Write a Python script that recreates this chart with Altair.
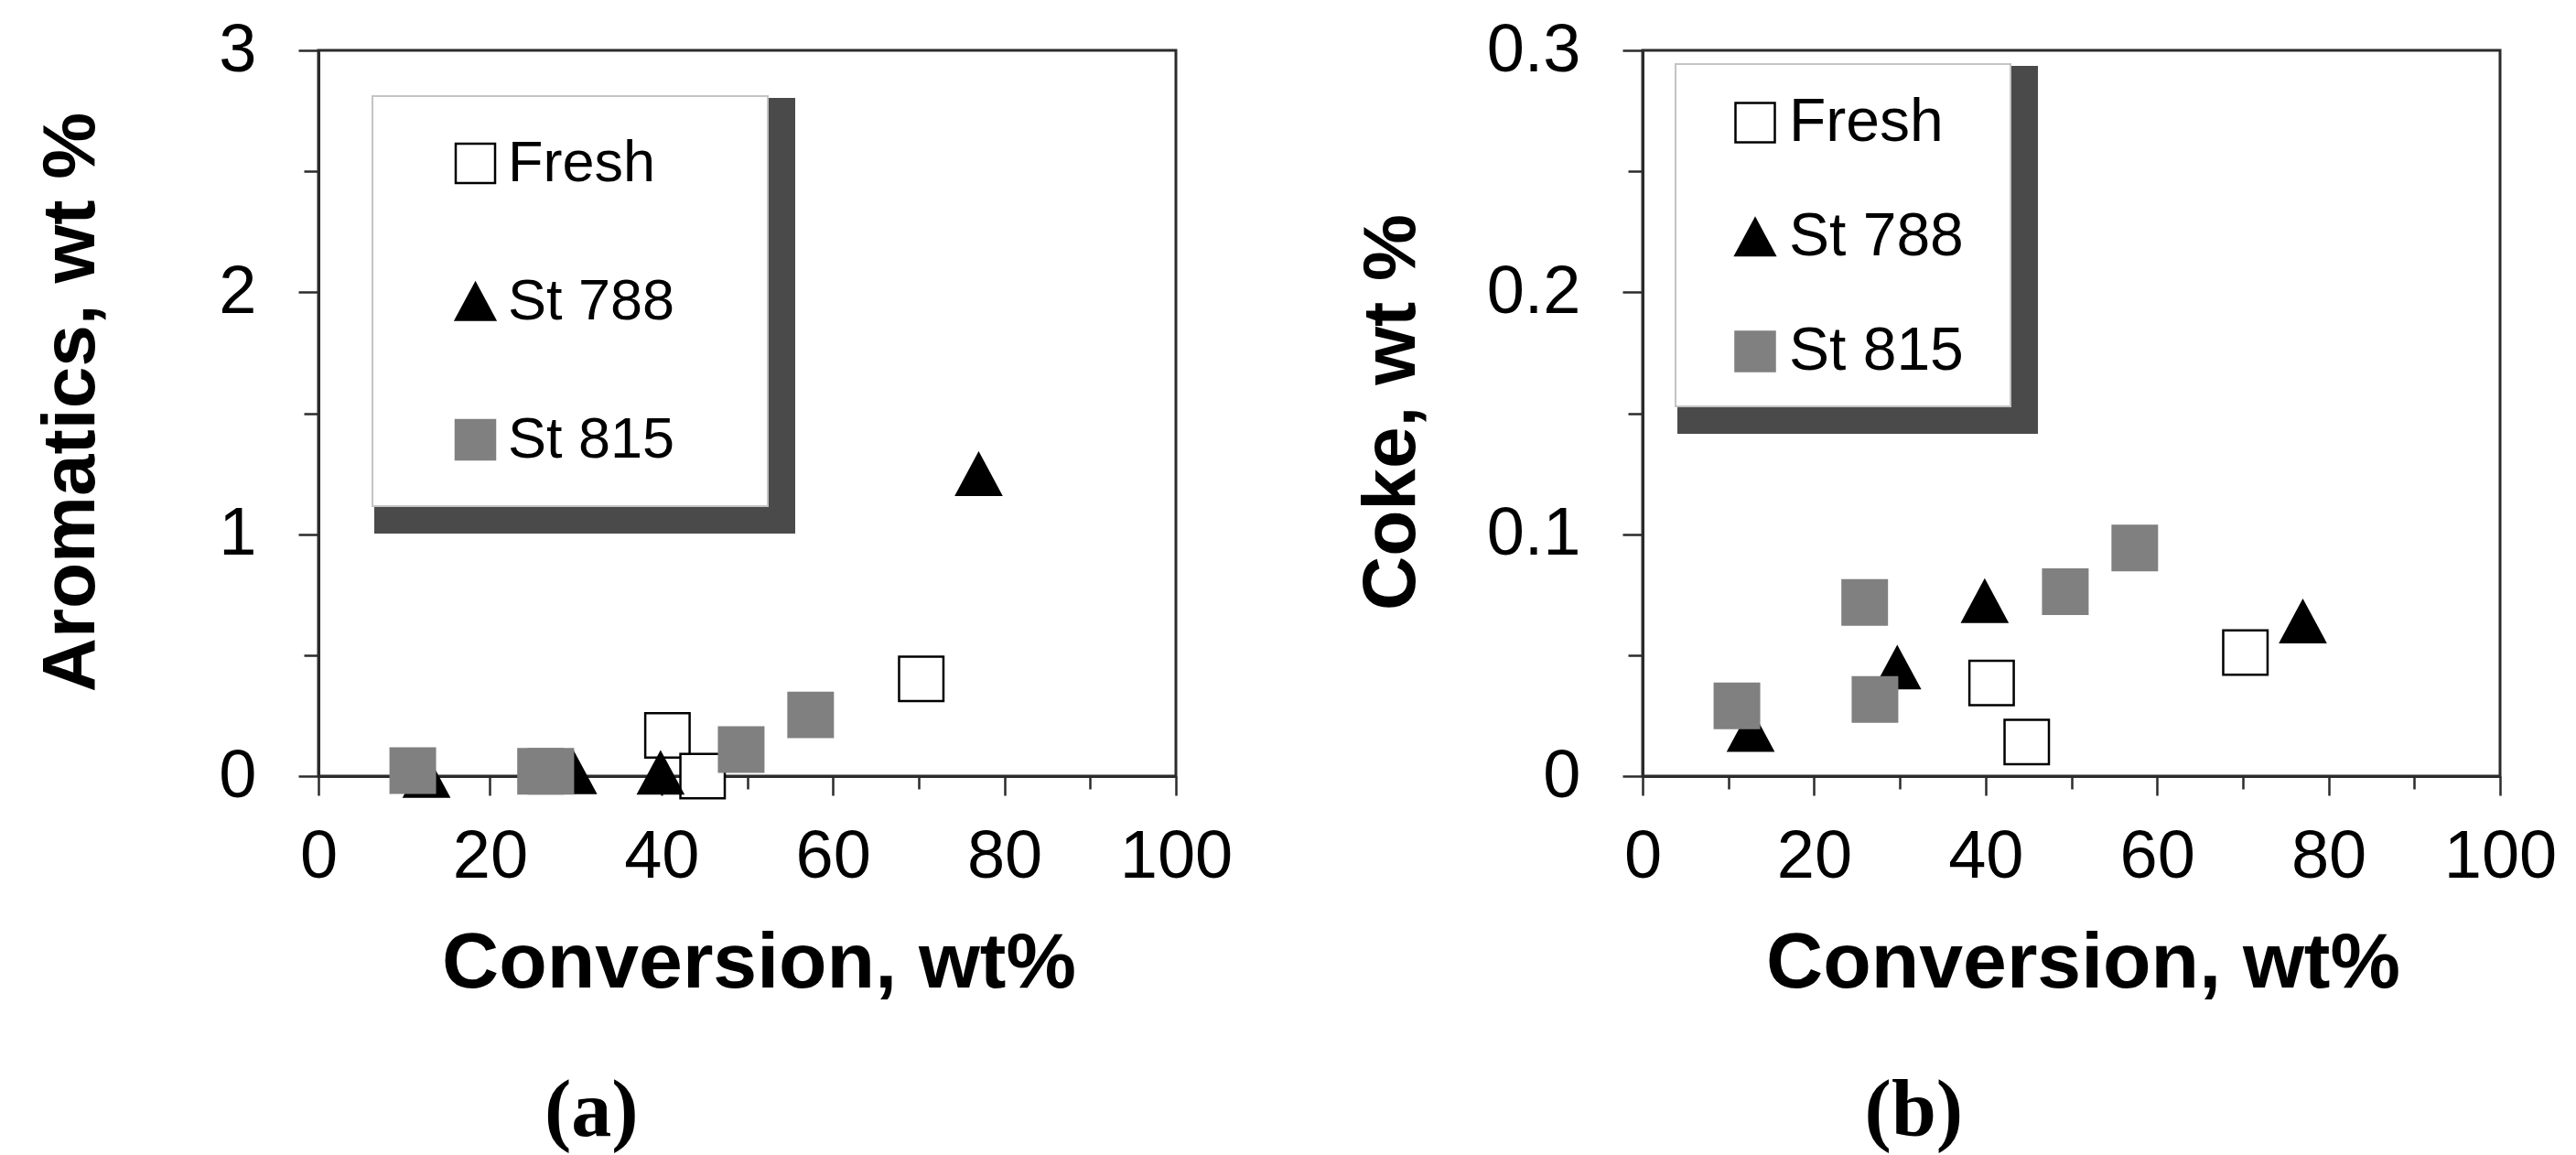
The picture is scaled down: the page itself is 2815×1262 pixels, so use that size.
import altair as alt
import pandas as pd

FONT = "Liberation Sans"
SERIF = "Liberation Serif"

# ---------------- data ----------------
series = ["Fresh", "St 788", "St 815"]

fresh_x = [40.7, 44.8, 70.3]
fresh_arom = [0.168, 0.0, 0.402]
fresh_coke = [0.0385, 0.0141, 0.0511]

st788_x = [12.6, 29.7, 39.9, 77.0]
st788_arom = [0.0, 0.015, 0.013, 1.248]
st788_coke = [0.019, 0.0448, 0.0723, 0.0639]

st815_x = [11.0, 25.9, 27.1, 49.3, 57.4]
st815_arom = [0.023, 0.02, 0.02, 0.110, 0.253]
st815_coke = [0.029, 0.0718, 0.0317, 0.0762, 0.0943]

x_ticks = [0, 10, 20, 30, 40, 50, 60, 70, 80, 90, 100]
arom_ticks = [0, 0.5, 1, 1.5, 2, 2.5, 3]
coke_ticks = [0, 0.05, 0.1, 0.15, 0.2, 0.25, 0.3]

W, H = 937, 793


def make_df(fy, sy, gy):
    rows = []
    for x, y in zip(fresh_x, fy):
        rows.append({"conv": x, "val": y, "series": "Fresh"})
    for x, y in zip(st788_x, sy):
        rows.append({"conv": x, "val": y, "series": "St 788"})
    for x, y in zip(st815_x, gy):
        rows.append({"conv": x, "val": y, "series": "St 815"})
    return pd.DataFrame(rows)


df_a = make_df(fresh_arom, st788_arom, st815_arom)
df_b = make_df(fresh_coke, st788_coke, st815_coke)

TRI = "M0,-0.93L-1,0.93L1,0.93Z"
shape_scale = alt.Scale(domain=series, range=["square", TRI, "square"])
fill_scale = alt.Scale(domain=series, range=["#ffffff", "#000000", "#808080"])
stroke_scale = alt.Scale(domain=series, range=["#000000", "#000000", "#808080"])

AX = "#2b2b2b"


def legend(lx, ly, fs, rowpad):
    return alt.Legend(
        title=None, orient="none", legendX=lx, legendY=ly,
        labelFont=FONT, labelFontSize=fs, labelColor="black",
        symbolSize=1850, symbolStrokeWidth=2.5, rowPadding=rowpad,
        labelOffset=4, padding=0, labelLimit=1000,
    )


def x_axis():
    return alt.Axis(
        values=x_ticks, title="Conversion, wt%",
        titleFont=FONT, titleFontSize=86, titleFontWeight="bold", titleColor="black",
        titleX=481, titleY=230, titleBaseline="alphabetic", titleAlign="center",
        labelFont=FONT, labelFontSize=74, labelColor="black", labelPadding=31,
        labelExpr="datum.value % 20 === 0 ? datum.label : ''",
        labelFlush=False, labelOverlap=False,
        tickSize={"condition": {"test": "datum.value % 20 === 0", "value": 21}, "value": 14},
        tickColor=AX, tickWidth=2.5, domainColor=AX, domainWidth=3, grid=False,
    )


def y_axis(values, title, test, tx, ty):
    return alt.Axis(
        values=values, format="~g", title=title,
        titleFont=FONT, titleFontSize=82, titleFontWeight="bold", titleColor="black",
        titleX=tx, titleY=ty, titleAngle=270, titleBaseline="alphabetic", titleAlign="center",
        labelFont=FONT, labelFontSize=74, labelColor="black", labelPadding=46,
        labelExpr=f"({test}) ? datum.label : ''", labelOverlap=False, labelFlush=False,
        tickSize={"condition": {"test": test, "value": 22}, "value": 16},
        tickColor=AX, tickWidth=2.5, domainColor=AX, domainWidth=3, grid=False,
    )


def panel(df, ydom, yvals, ytitle, ytest, tx, ty, leg, box, caption):
    one = alt.Data(values=[{"k": 1}])
    bx0, by0, bx1, by1 = box
    frame = alt.Chart(one).mark_rect(fillOpacity=0, stroke=AX, strokeWidth=3).encode(
        x=alt.value(0), x2=alt.value(W), y=alt.value(0), y2=alt.value(H),
    )
    shadow = alt.Chart(one).mark_rect(color="#4a4a4a").encode(
        x=alt.value(bx0 + 2), x2=alt.value(bx1 + 30),
        y=alt.value(by0 + 2), y2=alt.value(by1 + 30),
    )
    white = alt.Chart(one).mark_rect(fill="white", stroke="#c4c4c4", strokeWidth=2).encode(
        x=alt.value(bx0), x2=alt.value(bx1), y=alt.value(by0), y2=alt.value(by1),
    )
    pts = alt.Chart(df).mark_point(filled=True, size=2350, strokeWidth=2.5, opacity=1).encode(
        x=alt.X("conv:Q", scale=alt.Scale(domain=[0, 100], nice=False), axis=x_axis()),
        y=alt.Y("val:Q", scale=alt.Scale(domain=ydom, nice=False),
                axis=y_axis(yvals, ytitle, ytest, tx, ty)),
        fill=alt.Fill("series:N", scale=fill_scale, legend=leg),
        stroke=alt.Stroke("series:N", scale=stroke_scale, legend=leg),
        shape=alt.Shape("series:N", scale=shape_scale, legend=leg),
    )
    return alt.layer(frame, shadow, white, pts).properties(
        width=W, height=H,
        title=alt.TitleParams(caption, orient="bottom", font=SERIF, fontSize=88,
                              fontWeight="bold", color="black", anchor="middle",
                              frame="bounds", offset=76, dx=-45),
    )


chart_a = panel(
    df_a, [0, 3], arom_ticks, "Aromatics, wt %", "datum.value % 1 === 0",
    -246, 384, legend(140, 92, 63, 87), (59, 50, 491, 498), "(a)",
)
chart_b = panel(
    df_b, [0, 0.3], coke_ticks, "Coke, wt %",
    "abs(datum.value * 10 - round(datum.value * 10)) < 1e-6",
    -250, 395, legend(90, 46, 66, 59), (36, 15, 402, 389), "(b)",
)

chart = alt.hconcat(chart_a, chart_b, spacing=130).resolve_scale(
    x="independent", y="independent",
    fill="independent", stroke="independent", shape="independent",
).resolve_legend(
    fill="independent", stroke="independent", shape="independent",
).properties(
    padding={"left": 27, "top": 9, "right": 5, "bottom": 0},
).configure_view(
    stroke=AX, strokeWidth=3,
).configure(background="white")

chart.save("out.html", embed_options={"renderer": "svg", "actions": False})
